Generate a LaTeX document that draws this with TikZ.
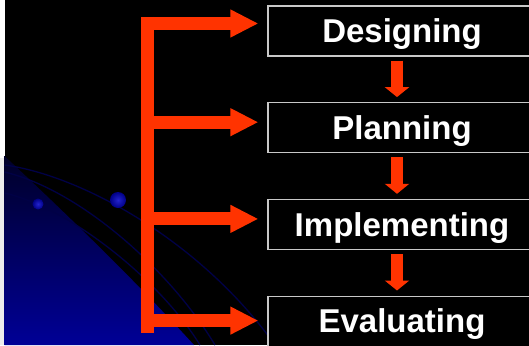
\documentclass[tikz,border=0pt]{standalone}
\usepackage{fontspec}
\setmainfont{Liberation Sans}
\usetikzlibrary{arrows.meta, positioning, calc}

\definecolor{arrowred}{RGB}{255,51,0}
\definecolor{boxline}{RGB}{200,200,200}
\definecolor{deepblue}{RGB}{0,0,150}
\definecolor{darkblue}{RGB}{0,0,40}
\definecolor{orbit}{RGB}{0,0,70}
\definecolor{planetlight}{RGB}{35,35,205}
\definecolor{planetdark}{RGB}{0,0,135}

\tikzset{
  stage/.style={draw=boxline, line width=1.2pt, fill=black, text=white,
    minimum width=268pt, minimum height=50pt, inner sep=0pt,
    font=\bfseries\fontsize{33}{40}\selectfont, text height=23.6pt, text depth=0pt},
  fatarrow/.style={draw=arrowred, line width=13pt, -{Triangle[length=28pt,width=26pt]}},
  smallarrow/.style={draw=arrowred, line width=12pt, -{Triangle[length=10pt,width=24pt]}},
  orbitline/.style={draw=orbit, line width=1.3pt},
  planet/.style={inner color=planetlight, outer color=planetdark},
}

\begin{document}
\begin{tikzpicture}[x=1pt, y=-1pt]
  %► Canvas
  \useasboundingbox (0,0) rectangle (529,345);
  \clip (0,0) rectangle (529,345);
  \fill[black] (0,0) rectangle (529,345);
  \fill[white] (0,0) rectangle (4.5,158);
  \fill[gray!15] (0,158) rectangle (4.5,345);

  %► Blue swoosh in the lower left corner
  \shade[top color=darkblue, bottom color=deepblue]
    (4.5,156) .. controls (60,208) and (130,275) .. (194,345) -- (4.5,345) -- cycle;

  %► Orbits and planets
  \draw[orbitline] (4.5,165) .. controls (80,175) and (200,240) .. (275,345);
  \draw[orbitline] (4.5,172) .. controls (80,190) and (170,270) .. (215,345);
  \draw[orbitline] (4.5,193) .. controls (70,208) and (160,280) .. (200,345);
  \shade[planet] (118,200) circle (8pt);
  \shade[planet] (38,204) circle (5.5pt);

  %► Stages
  \node[stage] (design) at (402,31) {Designing};
  \node[stage, below=45.5pt of design] (plan) {Planning};
  \node[stage, below=45.5pt of plan] (implement) {Implementing};
  \node[stage, below=45.5pt of implement] (evaluate) {Evaluating};

  %► Down arrows between stages
  \foreach \a/\b in {design/plan, plan/implement, implement/evaluate}
    \draw[smallarrow] ([xshift=-5pt,yshift=-4pt]\a.south) -- ([xshift=-5pt,yshift=5pt]\b.north);

  %► Bracket spine and arms
  \coordinate (spine top) at (147.5,17);
  \coordinate (spine bottom) at (147.5,333);
  \draw[draw=arrowred, line width=13pt] (spine top) -- (spine bottom);
  \foreach \s/\dy in {design/7.5, plan/5.5, implement/5.5, evaluate/0.5} {
    \coordinate (tip) at ([xshift=-9pt, yshift=\dy pt]\s.west);
    \draw[fatarrow] (spine top |- tip) -- (tip);
  }
\end{tikzpicture}
\end{document}
